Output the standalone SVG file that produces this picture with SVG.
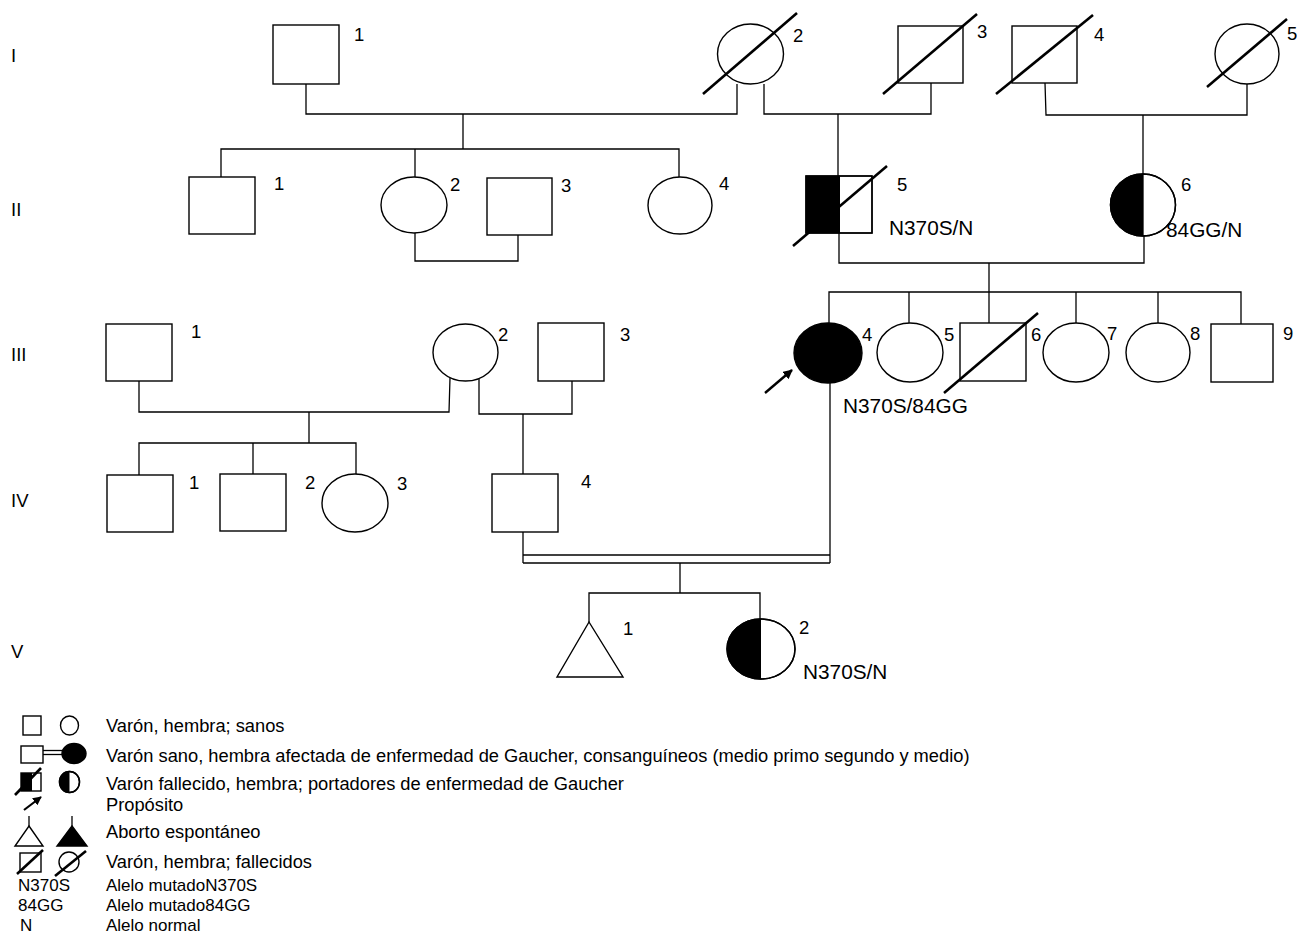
<svg xmlns="http://www.w3.org/2000/svg" width="1297" height="937" viewBox="0 0 1297 937">
<style>
  .s{fill:#fff;stroke:#000;stroke-width:1.4}
  .f{fill:#000;stroke:#000;stroke-width:1.4}
  .h{fill:#000;stroke:none}
  .o{fill:none;stroke:#000;stroke-width:1.4}
  .d{fill:none;stroke:#000;stroke-width:2.6}
  .c{fill:none;stroke:#000;stroke-width:1.3}
  text{font-family:"Liberation Sans",Arial,sans-serif;fill:#000}
  .n{font-size:18.5px}
  .g{font-size:20.8px}
  .l{font-size:18.3px}
  .a{font-size:17px}
</style>
<defs>
  <marker id="ah" viewBox="0 0 10 10" refX="9" refY="5" markerWidth="4" markerHeight="4" orient="auto">
    <path d="M0,0 L10,5 L0,10 Z" fill="#000"/>
  </marker>
</defs>
<rect width="1297" height="937" fill="#fff"/>

<g id="generation-labels">
  <text class="n" x="11" y="62">I</text>
  <text class="n" x="11" y="216">II</text>
  <text class="n" x="11" y="361">III</text>
  <text class="n" x="11" y="507">IV</text>
  <text class="n" x="11" y="658">V</text>
</g>

<g id="connectors">
  <polyline class="c" points="306,84 306,114 737,114 737,84"/>
  <line class="c" x1="463" y1="114" x2="463" y2="149"/>
  <polyline class="c" points="764,84 764,114 931,114 931,83"/>
  <line class="c" x1="838" y1="114" x2="838" y2="176"/>
  <polyline class="c" points="1045,83 1046,115 1247,115 1247,84"/>
  <line class="c" x1="1143" y1="115" x2="1143" y2="174"/>
  <polyline class="c" points="221,177 221,149 679,149 679,177"/>
  <line class="c" x1="415" y1="149" x2="415" y2="177"/>
  <polyline class="c" points="415,233 415,261 518,261 518,235"/>
  <polyline class="c" points="839,233 839,263 1144,263 1144,236"/>
  <line class="c" x1="989" y1="263" x2="989" y2="292"/>
  <polyline class="c" points="829,323 829,292 1241,292 1241,324"/>
  <line class="c" x1="909" y1="292" x2="909" y2="323"/>
  <line class="c" x1="989" y1="292" x2="989" y2="323"/>
  <line class="c" x1="1076" y1="292" x2="1076" y2="323"/>
  <line class="c" x1="1158" y1="292" x2="1158" y2="323"/>
  <polyline class="c" points="139,381 139,412 449,412 450,378"/>
  <line class="c" x1="309" y1="412" x2="309" y2="443"/>
  <polyline class="c" points="139,475 139,443 356,443 356,474"/>
  <line class="c" x1="253" y1="443" x2="253" y2="474"/>
  <polyline class="c" points="479,379 479,414 572,414 572,381"/>
  <line class="c" x1="523" y1="414" x2="523" y2="474"/>
  <line class="c" x1="523" y1="532" x2="523" y2="563"/>
  <line class="c" x1="830" y1="383" x2="830" y2="563"/>
  <line class="c" x1="523" y1="555" x2="830" y2="555"/>
  <line class="c" x1="523" y1="563" x2="830" y2="563"/>
  <line class="c" x1="680" y1="563" x2="680" y2="593"/>
  <polyline class="c" points="589,622 589,593 760,593 760,619"/>
  <line x1="765" y1="393" x2="792" y2="370" stroke="#000" stroke-width="2.4" marker-end="url(#ah)"/>
</g>

<g id="I-1">
  <rect class="s" x="273" y="25" width="66" height="59"/>
  <text class="n" x="354" y="41">1</text>
</g>
<g id="I-2">
  <ellipse class="s" cx="750.5" cy="54" rx="33" ry="30"/>
  <line class="d" x1="703" y1="94" x2="797" y2="13"/>
  <text class="n" x="793" y="42">2</text>
</g>
<g id="I-3">
  <rect class="s" x="898" y="26" width="65" height="57"/>
  <line class="d" x1="883" y1="94" x2="977" y2="14"/>
  <text class="n" x="977" y="38">3</text>
</g>
<g id="I-4">
  <rect class="s" x="1012" y="26" width="65" height="57"/>
  <line class="d" x1="996" y1="94" x2="1093" y2="15"/>
  <text class="n" x="1094" y="41">4</text>
</g>
<g id="I-5">
  <ellipse class="s" cx="1247" cy="54" rx="32" ry="30"/>
  <line class="d" x1="1207" y1="87" x2="1287" y2="19"/>
  <text class="n" x="1287" y="40">5</text>
</g>

<g id="II-1">
  <rect class="s" x="189" y="177" width="66" height="57"/>
  <text class="n" x="274" y="190">1</text>
</g>
<g id="II-2">
  <ellipse class="s" cx="414" cy="205" rx="33" ry="28"/>
  <text class="n" x="450" y="191">2</text>
</g>
<g id="II-3">
  <rect class="s" x="487" y="178" width="65" height="57"/>
  <text class="n" x="561" y="192">3</text>
</g>
<g id="II-4">
  <ellipse class="s" cx="680" cy="205.5" rx="32" ry="28.5"/>
  <text class="n" x="719" y="190">4</text>
</g>
<g id="II-5">
  <rect class="s" x="806" y="176" width="66" height="57"/>
  <rect class="h" x="806" y="176" width="34" height="57"/>
  <rect class="o" x="806" y="176" width="66" height="57"/>
  <line class="d" x1="793" y1="246" x2="887" y2="166"/>
  <text class="n" x="897" y="191">5</text>
  <text class="g" x="889" y="235">N370S/N</text>
</g>
<g id="II-6">
  <ellipse class="s" cx="1143" cy="205" rx="32.5" ry="31"/>
  <path class="h" d="M1143,174 A32.5,31 0 0 0 1143,236 Z"/>
  <ellipse class="o" cx="1143" cy="205" rx="32.5" ry="31"/>
  <line class="c" x1="1143" y1="174" x2="1143" y2="236"/>
  <text class="n" x="1181" y="191">6</text>
  <text class="g" x="1166" y="237">84GG/N</text>
</g>

<g id="III-1">
  <rect class="s" x="106" y="324" width="66" height="57"/>
  <text class="n" x="191" y="338">1</text>
</g>
<g id="III-2">
  <ellipse class="s" cx="465.5" cy="352.5" rx="32.5" ry="28.5"/>
  <text class="n" x="498" y="341">2</text>
</g>
<g id="III-3">
  <rect class="s" x="538" y="323" width="66" height="58"/>
  <text class="n" x="620" y="341">3</text>
</g>
<g id="III-4">
  <ellipse class="f" cx="828" cy="353" rx="34" ry="30"/>
  <text class="n" x="862" y="341">4</text>
  <text class="g" x="843" y="413">N370S/84GG</text>
</g>
<g id="III-5">
  <ellipse class="s" cx="910" cy="352.5" rx="33" ry="29.5"/>
  <text class="n" x="944" y="341">5</text>
</g>
<g id="III-6">
  <rect class="s" x="960" y="323" width="66" height="58"/>
  <line class="d" x1="944" y1="393" x2="1038" y2="313"/>
  <text class="n" x="1031" y="341">6</text>
</g>
<g id="III-7">
  <ellipse class="s" cx="1076" cy="352.5" rx="33" ry="29.5"/>
  <text class="n" x="1107" y="340">7</text>
</g>
<g id="III-8">
  <ellipse class="s" cx="1158" cy="352.5" rx="32" ry="29.5"/>
  <text class="n" x="1190" y="340">8</text>
</g>
<g id="III-9">
  <rect class="s" x="1211" y="324" width="62" height="58"/>
  <text class="n" x="1283" y="340">9</text>
</g>

<g id="IV-1">
  <rect class="s" x="107" y="475" width="66" height="57"/>
  <text class="n" x="189" y="489">1</text>
</g>
<g id="IV-2">
  <rect class="s" x="220" y="474" width="66" height="57"/>
  <text class="n" x="305" y="489">2</text>
</g>
<g id="IV-3">
  <ellipse class="s" cx="355" cy="503" rx="33" ry="29"/>
  <text class="n" x="397" y="490">3</text>
</g>
<g id="IV-4">
  <rect class="s" x="492" y="474" width="66" height="58"/>
  <text class="n" x="581" y="488">4</text>
</g>

<g id="V-1">
  <polygon class="s" points="589,622 623,677 557,677"/>
  <text class="n" x="623" y="635">1</text>
</g>
<g id="V-2">
  <ellipse class="s" cx="761" cy="649" rx="34" ry="30"/>
  <path class="h" d="M761,619 A34,30 0 0 0 761,679 Z"/>
  <ellipse class="o" cx="761" cy="649" rx="34" ry="30"/>
  <text class="n" x="799" y="634">2</text>
  <text class="g" x="803" y="679">N370S/N</text>
</g>

<g id="legend">
  <rect class="s" x="23" y="716" width="18" height="19"/>
  <ellipse class="s" cx="69.5" cy="725.5" rx="9" ry="9.5"/>
  <text class="l" x="106" y="732">Varón, hembra; sanos</text>

  <rect class="s" x="21" y="746" width="22" height="17"/>
  <line class="c" x1="43" y1="750.5" x2="64" y2="750.5"/>
  <line class="c" x1="43" y1="754.5" x2="64" y2="754.5"/>
  <ellipse class="f" cx="74" cy="753.5" rx="12" ry="10"/>
  <text class="l" x="106" y="762">Varón sano, hembra afectada de enfermedad de Gaucher, consanguíneos (medio primo segundo y medio)</text>

  <rect class="h" x="21" y="773" width="11" height="18"/>
  <rect class="o" x="21" y="773" width="20" height="18"/>
  <line class="d" x1="15" y1="795" x2="41" y2="768"/>
  <ellipse class="s" cx="69.5" cy="782" rx="10" ry="10.5"/>
  <path class="h" d="M69.5,771.5 A10,10.5 0 0 0 69.5,792.5 Z"/>
  <ellipse class="o" cx="69.5" cy="782" rx="10" ry="10.5"/>
  <text class="l" x="106" y="790">Varón fallecido, hembra; portadores de enfermedad de Gaucher</text>

  <line x1="24" y1="810" x2="41" y2="797" stroke="#000" stroke-width="2.2" marker-end="url(#ah)"/>
  <text class="l" x="106" y="811">Propósito</text>

  <line class="c" x1="29" y1="816" x2="29" y2="826"/>
  <polygon class="s" points="29,826 43,846 15,846"/>
  <line class="c" x1="72" y1="816" x2="72" y2="826"/>
  <polygon class="f" points="72,826 87,846 57,846"/>
  <text class="l" x="106" y="838">Aborto espontáneo</text>

  <rect class="s" x="20" y="853" width="21" height="19"/>
  <line class="d" x1="17" y1="874" x2="43" y2="850"/>
  <circle class="s" cx="69" cy="862" r="10"/>
  <line class="d" x1="55" y1="876" x2="86" y2="851"/>
  <text class="l" x="106" y="868">Varón, hembra; fallecidos</text>

  <text class="a" x="18" y="891">N370S</text>
  <text class="a" x="106" y="891">Alelo mutadoN370S</text>
  <text class="a" x="18" y="911">84GG</text>
  <text class="a" x="106" y="911">Alelo mutado84GG</text>
  <text class="a" x="20" y="931">N</text>
  <text class="a" x="106" y="931">Alelo normal</text>
</g>
</svg>
